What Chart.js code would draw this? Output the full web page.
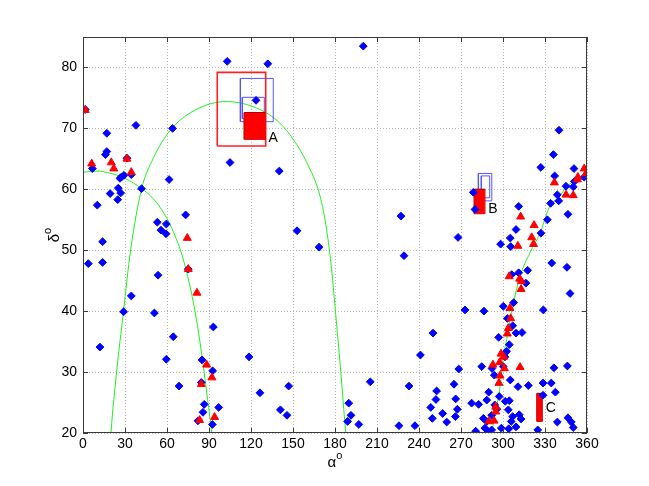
<!DOCTYPE html>
<html><head><meta charset="utf-8">
<script src="https://cdn.jsdelivr.net/npm/chart.js@4/dist/chart.umd.min.js"></script>
<style>html,body{margin:0;padding:0;background:#fff}#wrap{width:649px;height:486px}</style>
</head><body><div id="wrap"><canvas id="c" width="649" height="486"></canvas></div>
<script>
// ---- data ----
const blueRA = [1.6,3.8,6.7,10.2,12.1,14,14,16,17,17,19.4,25.2,26.9,24.8,26.4,27.4,29.3,29,31.4,34.5,34.5,37.8,41.8,51,53.1,53.6,55.7,59.3,59.5,59.5,61.5,64,64.5,68.6,73.3,75.2,82.1,84.5,85,85.7,86.6,92.4,92.6,93.1,96.9,
103,105,118.6,123.6,126.4,132,140.2,141,145.7,146.9,152.9,168.6,189.8,191.4,189,197,200.2,205.2,225.7,227.1,229.3,232.9,237.1,241,248.4,249.5,250,252.1,252.6,256.9,259.8,265,266.2,267.4,266,267.9,268.4,272.9,
278.8,280,277.6,282.6,284.8,286.4,286,287.1,288.4,288.4,289.5,289.8,291.9,291.9,292.1,293.8,294.1,295.7,296.9,297.3,298.3,298.8,300.2,300.2,301.4,301.6,302.6,303.1,303.8,304.1,304.5,304.5,305.2,305.2,305.5,305.9,306.2,306.9,306.9,307.6,309.3,309.3,309.3,310.7,311.2,311.2,311.6,312.9,313.6,316.4,317.6,318.1,324.8,327,327.1,328.6,328.6,328.8,331.7,334,334.5,334.8,336,336.4,336.9,337.4,338.8,338.8,339.8,340,345,345.7,346,346.4,346.4,347.9,348.8,350.2,280.5,350.7,350.2,351,358];
const blueDec = [73.1,47.8,63.4,57.4,34.1,51.4,48.0,65.7,66.2,69.2,59.3,60.2,59.4,58.3,61.8,62.0,62.3,39.9,65.1,62.4,42.5,70.5,60.1,39.7,54.6,45.9,53.3,52.7,54.3,32.1,61.6,70.0,35.8,27.7,55.8,46.9,22.0,28.3,32.0,23.4,24.7,21.4,30.2,37.4,24.2,
81.0,64.4,32.5,74.6,26.6,80.6,63.0,23.8,22.9,27.7,53.2,50.5,24.9,22.9,21.9,21.4,83.5,28.4,21.2,55.6,49.1,27.7,21.2,32.8,24.2,22.4,36.4,25.5,26.9,23.2,21.8,28.0,25.6,23.9,22.7,52.1,30.5,40.2,
59.5,56.7,24.9,24.7,30.9,40.0,22.4,20.8,25.4,21.9,20.2,26.7,22.9,20.5,30.6,29.5,24.6,23.9,35.7,26.0,51.0,20.8,40.8,30.9,32.5,25.2,33.4,38.8,23.8,20.7,25.3,34.5,52.0,28.7,50.6,21.9,46.0,37.6,22.7,41.4,53.4,36.4,21.0,27.6,57.2,46.3,23.0,22.3,36.5,44.6,46.7,27.8,20.5,63.6,52.8,28.2,26.2,40.2,55.0,57.7,28.2,47.9,65.7,30.7,62.2,26.7,59.1,21.8,58.1,69.7,60.5,47.2,31.0,55.9,22.5,42.9,21.8,20.9,20.3,63.4,60.4,61.3,62.0];
const redRA = [1.6,6.2,20.2,22,31.4,34.5,74.5,75.2,81.4,88.3,92.1,84.5,83.3,94,
312.6,322.2,320.5,321.8,310.6,304.4,311.9,313.1,312.9,305,305.5,303.8,303.1,298.6,300.5,297.6,292.8,301,312.2,297.9,297.1,294.8,294.8,290,293.6,336.7,345,350.2,353.5,353.1,358,359.3];
const redDec = [73.0,64.2,64.4,63.4,65.0,62.8,52.0,46.9,43.0,31.2,29.1,28.0,22.1,22.6,
55.5,54.1,52.1,51.0,50.7,45.7,45.3,44.9,43.6,40.5,38.8,37.2,36.3,33.0,32.5,31.6,31.2,30.6,30.8,29.4,28.2,24.3,23.5,21.9,22.0,61.1,59.1,59.0,62.0,61.6,63.4,62.6];
// green great-circle traces
const curve1RA  = [0,10,20,30,42,50,58,65,71,76,80,83.5,86.5,89,91.9,92.6];
const curve1Dec = [62.8,63,62.6,61.8,60.1,58.5,56,52.8,49,44.5,40,35,30,25.5,20,18];
const curve2RA  = [19.5,20,24,28.8,34,41.9,50,62,80,102.6,126.4,140,150.2,159.8,169.3,174,177.6,180,183.6,187.1,188.5];
const curve2Dec = [18,20,30,39.7,50,60.1,65,69.6,73,74.4,73.1,71,68.2,64.4,58.9,53.4,46.8,40.8,31.5,21.6,18];
const curve3RA  = [291.5,292.2,295.5,297.9,300.2,302.6,305,307.4,312.1,319.3,326.4,334,338.4,345.5,350.2,360];
const curve3Dec = [18,20,24.3,27.6,32.5,35.3,38.6,41.3,45.7,49.6,52.8,57.5,58.3,60.4,61.3,62.6];
// regions
const regionNames = ['A','B','C'];
const regionRA1  = [115.2,279.5,324.3];
const regionRA2  = [130.0,287.1,328.1];
const regionDec1 = [68.2,56.0,21.9];
const regionDec2 = [72.6,60.0,26.5];
const labelRA  = [132.5,289.5,330.5];
const labelDec = [68.4,56.8,24.0];
const redBoxRA1 = [95.9], redBoxRA2 = [130.5], redBoxDec1 = [67.1], redBoxDec2 = [79.2];
const blueBoxRA1  = [112.4,113.8,282.4,284.5];
const blueBoxRA2  = [135.9,129.5,292.0,290.5];
const blueBoxDec1 = [71.1,71.6,58.1,58.6];
const blueBoxDec2 = [78.2,75.1,62.6,62.2];
// ticks
const xTicks = [0,30,60,90,120,150,180,210,240,270,300,330,360];
const yTicks = [20,30,40,50,60,70,80];

// ---- build datasets ----
const pts = (xs, ys) => xs.map((x, i) => ({x: x, y: ys[i]}));
const boxPts = (x1, x2, y1, y2) => [{x:x1,y:y1},{x:x2,y:y1},{x:x2,y:y2},{x:x1,y:y2},{x:x1,y:y1}];
const datasets = [];
datasets.push({label:'red', data: pts(redRA, redDec), pointStyle:'triangle', pointRadius:4.6,
  backgroundColor:'#ff0000', borderColor:'#ff0000', borderWidth:1, order:0});
datasets.push({label:'blue', data: pts(blueRA, blueDec), pointStyle:'rectRot', pointRadius:3.9,
  backgroundColor:'#0000ff', borderColor:'#0000ff', borderWidth:1, order:1});
regionNames.forEach((n, i) => {
  datasets.push({label:'fill'+n, data:[{x:regionRA1[i],y:regionDec2[i]},{x:regionRA2[i],y:regionDec2[i]}],
    showLine:true, fill:{value:regionDec1[i]}, backgroundColor:'#ff0000', borderColor:'#b00000', borderWidth:1,
    pointRadius:0, order:2});
  datasets.push({label:'edge'+n, data: boxPts(regionRA1[i],regionRA2[i],regionDec1[i],regionDec2[i]),
    showLine:true, fill:false, borderColor:'#c00000', borderWidth:1, pointRadius:0, order:2});
});
redBoxRA1.forEach((v, i) => datasets.push({label:'redbox', data: boxPts(redBoxRA1[i],redBoxRA2[i],redBoxDec1[i],redBoxDec2[i]),
  showLine:true, fill:false, borderColor:'#ff2020', borderWidth:1.6, pointRadius:0, order:3}));
blueBoxRA1.forEach((v, i) => datasets.push({label:'bluebox', data: boxPts(blueBoxRA1[i],blueBoxRA2[i],blueBoxDec1[i],blueBoxDec2[i]),
  showLine:true, fill:false, borderColor:'#5555ff', borderWidth:1, pointRadius:0, order:3}));
[[curve1RA,curve1Dec],[curve2RA,curve2Dec],[curve3RA,curve3Dec]].forEach(c => datasets.push({label:'gc',
  data: pts(c[0], c[1]), showLine:true, fill:false, borderColor:'#22ee22', borderWidth:1, pointRadius:0,
  cubicInterpolationMode:'monotone', order:4}));

const FONT = '"Liberation Sans", Arial, sans-serif';

const decor = {
  id:'decor',
  afterDraw(chart) {
    const {ctx, chartArea:a, scales:{x, y}} = chart;
    ctx.save();
    // box
    ctx.strokeStyle = '#3a3a3a'; ctx.lineWidth = 1;
    ctx.strokeRect(Math.round(a.left)+0.5, Math.round(a.top)+0.5, Math.round(a.right-a.left)-1, Math.round(a.bottom-a.top)-1);
    // inward ticks
    ctx.beginPath();
    xTicks.forEach(v => { const px = Math.round(x.getPixelForValue(v))+0.5;
      ctx.moveTo(px, a.bottom); ctx.lineTo(px, a.bottom-5); ctx.moveTo(px, a.top); ctx.lineTo(px, a.top+5); });
    yTicks.forEach(v => { const py = Math.round(y.getPixelForValue(v))+0.5;
      ctx.moveTo(a.left, py); ctx.lineTo(a.left+5, py); ctx.moveTo(a.right, py); ctx.lineTo(a.right-5, py); });
    ctx.stroke();
    // region labels
    ctx.fillStyle = '#000'; ctx.font = '14px ' + FONT; ctx.textBaseline = 'middle'; ctx.textAlign = 'left';
    regionNames.forEach((n, i) => {
      ctx.fillText(n, x.getPixelForValue(labelRA[i]), y.getPixelForValue(labelDec[i]));
    });
    ctx.textBaseline = 'alphabetic';
    // axis titles with superscript o
    const sup = (base, s, cx, by) => {
      ctx.font = '15px ' + FONT; const w1 = ctx.measureText(base).width;
      ctx.font = '11px ' + FONT; const w2 = ctx.measureText(s).width;
      const sx = cx - (w1 + w2) / 2;
      ctx.font = '15px ' + FONT; ctx.fillText(base, sx, by);
      ctx.font = '11px ' + FONT; ctx.fillText(s, sx + w1, by - 8);
    };
    sup('α', 'o', (a.left + a.right) / 2, 467);
    ctx.translate(59, (a.top + a.bottom) / 2);
    ctx.rotate(-Math.PI / 2);
    sup('δ', 'o', 0, 0);
    ctx.restore();
  }
};

new Chart(document.getElementById('c'), {
  type: 'scatter',
  data: { datasets },
  options: {
    responsive:false, animation:false, devicePixelRatio:1,
    layout:{ padding:{ top:37, right:62, left:0, bottom:0 } },
    plugins:{ legend:{display:false}, tooltip:{enabled:false}, title:{display:false} },
    elements:{ line:{ tension:0 } },
    scales:{
      x:{ type:'linear', min:0, max:360,
        afterBuildTicks: s => { s.ticks = xTicks.map(v => ({value:v})); },
        afterFit: s => { s.height = 53; },
        grid:{ color:'#b8b8b8', lineWidth:1, drawTicks:false },
        border:{ display:false, dash:[1,2] },
        ticks:{ color:'#000', font:{ size:14, family:FONT }, padding:3, maxRotation:0, autoSkip:false }
      },
      y:{ type:'linear', min:20, max:85,
        afterBuildTicks: s => { s.ticks = yTicks.map(v => ({value:v})); },
        afterFit: s => { s.width = 83; },
        grid:{ color:'#b8b8b8', lineWidth:1, drawTicks:false },
        border:{ display:false, dash:[1,2] },
        ticks:{ color:'#000', font:{ size:14, family:FONT }, padding:6, autoSkip:false }
      }
    }
  },
  plugins:[decor]
});
</script></body></html>
